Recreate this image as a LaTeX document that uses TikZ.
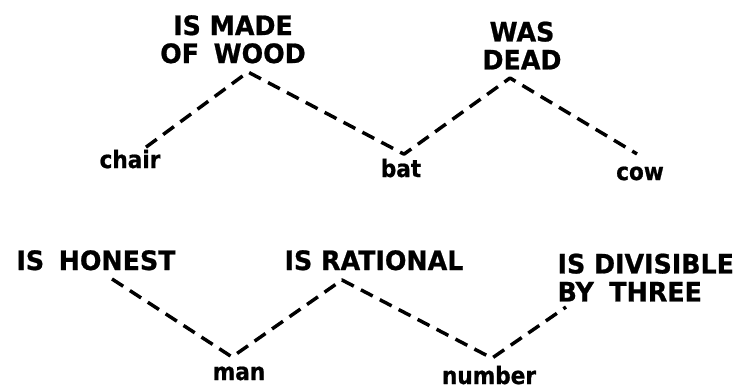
\documentclass[tikz,border=0pt]{standalone}
\usepackage{fontspec}
\setmainfont{DejaVu Sans}
\newfontfamily\capsfont[FakeStretch=0.95, FakeBold=0.8]{DejaVu Sans}
\newfontfamily\wordfont[FakeStretch=0.9, FakeBold=0.8]{DejaVu Sans}
\newcommand\widegap{\hspace{0.55em}}
\begin{document}
\begin{tikzpicture}[x=0.75pt, y=-0.75pt,
        prop/.style={inner sep=1pt, font=\capsfont\bfseries\fontsize{20}{21}\selectfont},
        word/.style={inner sep=1pt, font=\wordfont\bfseries\fontsize{18}{20}\selectfont},
        link/.style={line width=2.6pt, dash pattern=on 10pt off 6pt, line join=round}]
        \useasboundingbox (0,0) rectangle (738,389);

        % upper row
        \node[prop, align=center, anchor=south] (wood) at (233,65) {IS MADE\\OF\widegap WOOD};
        \node[prop, align=center, anchor=south] (dead) at (522,71) {WAS\\DEAD};
        \node[word, anchor=base] (chair) at (130,168) {chair};
        \node[word, anchor=base] (bat) at (401,177) {bat};
        \node[word, anchor=base] (cow) at (640,180) {cow};

        \draw[link] ([shift={(16,-1)}]chair.north) -- ([shift={(15,7)}]wood.south)
            -- ([shift={(3,-3)}]bat.north) -- ([shift={(-12,7)}]dead.south)
            -- ([shift={(-3,-11)}]cow.north);

        % lower row
        \node[prop, anchor=base] (honest) at (96,270) {IS\widegap HONEST};
        \node[prop, anchor=base] (rational) at (374,270) {IS RATIONAL};
        \node[prop, align=left, anchor=south west] (three) at (556,303) {IS DIVISIBLE\\BY\hspace{0.25em} THREE};
        \node[word, anchor=base] (man) at (239,380) {man};
        \node[word, anchor=base] (number) at (489,384) {number};

        \draw[link] ([shift={(16,7)}]honest.south) -- ([shift={(-7,-8)}]man.north)
            -- ([shift={(-32,8)}]rational.south) -- ([shift={(3,-6)}]number.north)
            -- ([shift={(10,4)}]three.south west);
    \end{tikzpicture}
\end{document}
